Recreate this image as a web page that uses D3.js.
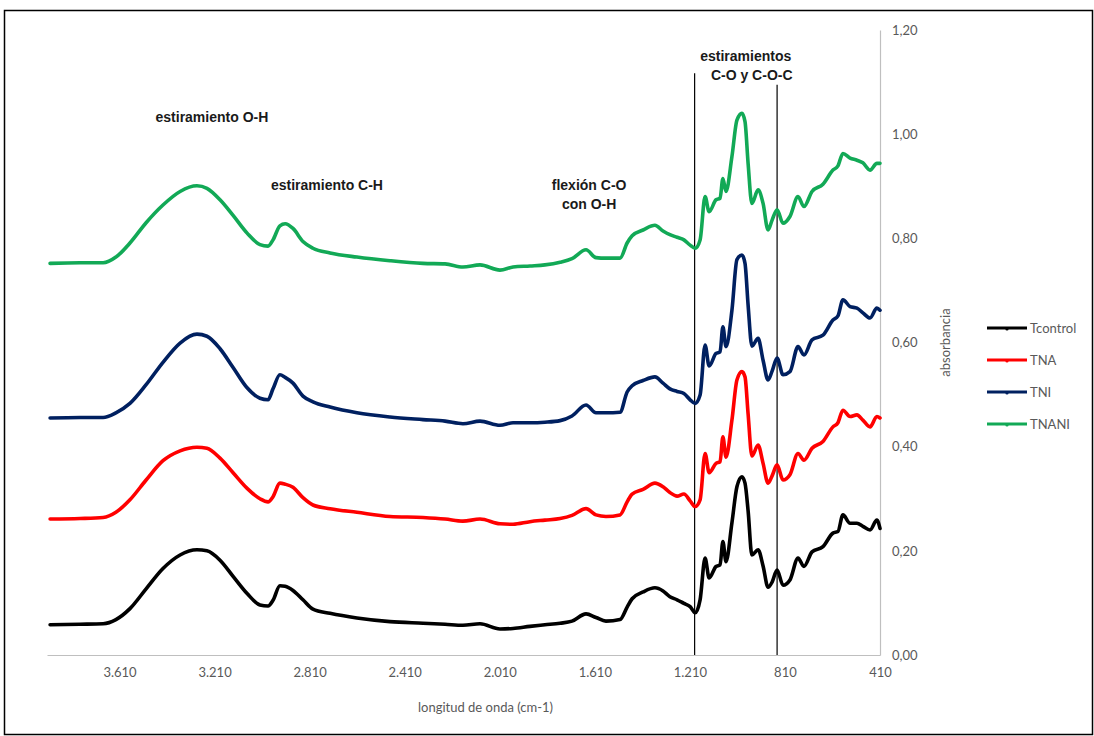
<!DOCTYPE html>
<html>
<head>
<meta charset="utf-8">
<script src="https://cdn.jsdelivr.net/npm/d3@7"></script>
<style>
  html, body { margin: 0; padding: 0; background: #fff; }
  svg { display: block; }
</style>
</head>
<body>
<svg id="chart" width="1094" height="736"></svg>
<script>
// FTIR spectra: wavenumber (cm-1) and absorbance for each sample
const wavenumbers = [3902, 3776, 3679, 3625, 3566, 3498, 3427, 3355, 3284, 3242, 3187, 3132, 3073, 3019, 2985, 2964, 2935, 2913, 2880, 2838, 2796, 2724, 2611, 2472, 2333, 2240, 2165, 2093, 2009, 1954, 1883, 1820, 1756, 1706, 1647, 1605, 1563, 1504, 1474, 1453, 1407, 1357, 1323, 1294, 1264, 1235, 1209, 1188, 1167, 1146, 1129, 1100, 1083, 1071, 1058, 1033, 1012, 991, 978, 965, 949, 923, 902, 881, 864, 843, 818, 789, 755, 730, 696, 650, 608, 587, 566, 536, 507, 482, 452, 423, 410];

const tcontrol = [0.058, 0.059, 0.060, 0.068, 0.089, 0.127, 0.166, 0.192, 0.202, 0.200, 0.182, 0.151, 0.118, 0.096, 0.094, 0.105, 0.133, 0.132, 0.124, 0.106, 0.088, 0.080, 0.071, 0.064, 0.061, 0.059, 0.057, 0.060, 0.050, 0.051, 0.055, 0.058, 0.061, 0.065, 0.079, 0.072, 0.065, 0.068, 0.092, 0.108, 0.121, 0.129, 0.123, 0.112, 0.106, 0.099, 0.093, 0.081, 0.106, 0.186, 0.148, 0.170, 0.173, 0.218, 0.179, 0.254, 0.323, 0.342, 0.330, 0.277, 0.192, 0.202, 0.171, 0.130, 0.140, 0.163, 0.134, 0.144, 0.186, 0.170, 0.198, 0.208, 0.234, 0.237, 0.269, 0.253, 0.253, 0.247, 0.240, 0.259, 0.243];

const tna = [0.261, 0.262, 0.264, 0.274, 0.298, 0.336, 0.373, 0.392, 0.399, 0.397, 0.378, 0.350, 0.320, 0.300, 0.294, 0.304, 0.330, 0.328, 0.322, 0.302, 0.288, 0.281, 0.274, 0.266, 0.264, 0.261, 0.257, 0.261, 0.252, 0.251, 0.256, 0.259, 0.262, 0.268, 0.281, 0.269, 0.266, 0.269, 0.294, 0.309, 0.318, 0.330, 0.323, 0.312, 0.305, 0.309, 0.296, 0.285, 0.298, 0.387, 0.350, 0.368, 0.371, 0.419, 0.380, 0.451, 0.528, 0.544, 0.534, 0.463, 0.382, 0.403, 0.368, 0.330, 0.344, 0.365, 0.336, 0.346, 0.387, 0.374, 0.397, 0.410, 0.438, 0.446, 0.470, 0.458, 0.461, 0.451, 0.438, 0.458, 0.455];

const tni = [0.455, 0.456, 0.456, 0.465, 0.483, 0.519, 0.562, 0.599, 0.616, 0.612, 0.588, 0.552, 0.513, 0.493, 0.490, 0.511, 0.538, 0.533, 0.522, 0.497, 0.486, 0.476, 0.465, 0.457, 0.452, 0.449, 0.444, 0.449, 0.441, 0.446, 0.446, 0.447, 0.450, 0.459, 0.480, 0.465, 0.465, 0.466, 0.505, 0.517, 0.527, 0.534, 0.522, 0.511, 0.506, 0.502, 0.490, 0.483, 0.499, 0.595, 0.555, 0.579, 0.582, 0.630, 0.592, 0.662, 0.759, 0.768, 0.752, 0.672, 0.593, 0.608, 0.566, 0.528, 0.545, 0.570, 0.538, 0.544, 0.592, 0.576, 0.605, 0.614, 0.643, 0.651, 0.682, 0.669, 0.666, 0.657, 0.647, 0.666, 0.662];

const tnani = [0.752, 0.753, 0.753, 0.764, 0.791, 0.830, 0.864, 0.890, 0.901, 0.896, 0.874, 0.844, 0.810, 0.788, 0.785, 0.797, 0.824, 0.828, 0.819, 0.794, 0.781, 0.772, 0.764, 0.757, 0.752, 0.751, 0.745, 0.749, 0.739, 0.745, 0.747, 0.749, 0.754, 0.761, 0.778, 0.763, 0.762, 0.762, 0.791, 0.805, 0.816, 0.825, 0.814, 0.807, 0.802, 0.797, 0.787, 0.781, 0.797, 0.880, 0.851, 0.874, 0.877, 0.915, 0.890, 0.957, 1.027, 1.040, 1.024, 0.944, 0.867, 0.893, 0.867, 0.816, 0.835, 0.855, 0.829, 0.842, 0.880, 0.861, 0.890, 0.904, 0.931, 0.939, 0.963, 0.954, 0.950, 0.945, 0.931, 0.944, 0.944];

const seriesNames = ["Tcontrol", "TNA", "TNI", "TNANI"];
const seriesColors = ["#000000", "#ff0000", "#002060", "#12a956"];
const seriesValues = [tcontrol, tna, tni, tnani];

const xTicks = [3610, 3210, 2810, 2410, 2010, 1610, 1210, 810, 410];
const yTicks = [0, 0.2, 0.4, 0.6, 0.8, 1.0, 1.2];

// band assignments: label lines, anchor wavenumber, absorbance of first baseline
const bandLabels = [
  { lines: ["estiramiento O-H"], wn: 3221, abs: 1.023 },
  { lines: ["estiramiento C-H"], wn: 2737, abs: 0.893 },
  { lines: ["flexión C-O", "con O-H"], wn: 1634, abs: 0.893 },
  { lines: ["estiramientos", "C-O y C-O-C"], wn: 975, abs: 1.141 }
];
// region markers for the C-O / C-O-C stretch band
const markerWn = [1190, 843];
const markerTop = [1.117, 1.095];

const svg = d3.select("#chart");
const W = 1094, H = 736;
const plot = { left: 47, right: 880, top: 30, bottom: 655 };

const esLocale = d3.formatLocale({ decimal: ",", thousands: ".", grouping: [3], currency: ["", " €"] });
const fmtX = esLocale.format(",d");
const fmtY = esLocale.format(".2f");

const x = d3.scaleLinear().domain([3915, 410]).range([plot.left, plot.right]);
const y = d3.scaleLinear().domain([0, 1.2]).range([plot.bottom, plot.top]);

// outer frame
svg.append("rect")
  .attr("x", 4.5).attr("y", 10.5)
  .attr("width", W - 6).attr("height", H - 12)
  .attr("fill", "none").attr("stroke", "#000").attr("stroke-width", 1.5);

const tickFont = "Lato, 'Open Sans', sans-serif";
const textGray = "#595959";

// x axis
const xAxis = svg.append("g")
  .attr("transform", `translate(0,${plot.bottom})`)
  .call(d3.axisBottom(x).tickValues(xTicks).tickFormat(fmtX).tickSize(0).tickPadding(13));
xAxis.select(".domain").attr("stroke", "#bfbfbf").attr("stroke-width", 1.2);
xAxis.selectAll("text").attr("fill", textGray).style("font-family", tickFont).style("font-size", "13px");

// y axis on the right
const yAxis = svg.append("g")
  .attr("transform", `translate(${plot.right},0)`)
  .call(d3.axisRight(y).tickValues(yTicks).tickFormat(fmtY).tickSize(0).tickPadding(12));
yAxis.select(".domain").attr("stroke", "#bfbfbf").attr("stroke-width", 1.2);
yAxis.selectAll("text").attr("fill", textGray).style("font-family", tickFont).style("font-size", "13px");

// axis titles
svg.append("text")
  .attr("x", (plot.left + plot.right) / 2 + 22).attr("y", 712)
  .attr("text-anchor", "middle")
  .attr("fill", textGray).style("font-family", tickFont).style("font-size", "13px")
  .text("longitud de onda (cm-1)");

svg.append("text")
  .attr("transform", `translate(950,${(plot.top + plot.bottom) / 2}) rotate(-90)`)
  .attr("text-anchor", "middle")
  .attr("fill", textGray).style("font-family", tickFont).style("font-size", "13px")
  .text("absorbancia");

// region marker lines
svg.append("g").selectAll("line")
  .data(markerWn)
  .join("line")
  .attr("x1", d => x(d)).attr("x2", d => x(d))
  .attr("y1", (d, i) => y(markerTop[i])).attr("y2", y(0))
  .attr("stroke", "#000").attr("stroke-width", 1.2);

// spectra
const line = d3.line()
  .x((d, i) => x(wavenumbers[i]))
  .y(d => y(d))
  .curve(d3.curveMonotoneX);

svg.append("g").selectAll("path")
  .data(seriesValues)
  .join("path")
  .attr("d", d => line(d))
  .attr("fill", "none")
  .attr("stroke", (d, i) => seriesColors[i])
  .attr("stroke-width", 3.6)
  .attr("stroke-linejoin", "round")
  .attr("stroke-linecap", "round");

// band labels
const labelG = svg.append("g")
  .style("font-family", "'Liberation Sans', Arial, sans-serif")
  .style("font-weight", "bold")
  .style("font-size", "14px")
  .attr("fill", "#1a1a1a");
bandLabels.forEach(b => {
  const t = labelG.append("text")
    .attr("x", x(b.wn)).attr("y", y(b.abs))
    .attr("text-anchor", "middle");
  b.lines.forEach((s, k) => {
    t.append("tspan").attr("x", x(b.wn) + (k > 0 && b.lines[0] === "estiramientos" ? 6 : 0))
      .attr("dy", k === 0 ? 0 : 19).text(s);
  });
});

// legend
const legend = svg.append("g").attr("transform", "translate(987,328)");
seriesNames.forEach((name, i) => {
  const g = legend.append("g").attr("transform", `translate(0,${i * 32})`);
  g.append("line").attr("x1", 0).attr("x2", 40).attr("y1", 0).attr("y2", 0)
    .attr("stroke", seriesColors[i]).attr("stroke-width", 3);
  g.append("circle").attr("cx", 20).attr("cy", 1).attr("r", 1.6).attr("fill", seriesColors[i]);
  g.append("text").attr("x", 43).attr("y", 0).attr("dy", "0.35em")
    .attr("fill", textGray).style("font-family", tickFont).style("font-size", "13px")
    .text(name);
});
</script>
</body>
</html>
